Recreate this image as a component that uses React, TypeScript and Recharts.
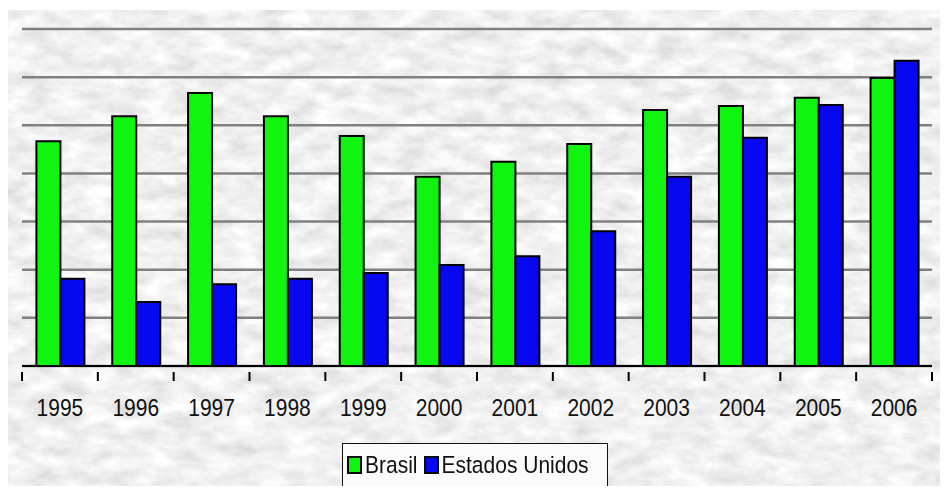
import { Bar, BarChart, CartesianGrid, Legend, XAxis, YAxis } from "recharts";

const YEARS = ["1995", "1996", "1997", "1998", "1999", "2000", "2001", "2002", "2003", "2004", "2005", "2006"];
const BRASIL = [4.67, 5.19, 5.67, 5.19, 4.78, 3.93, 4.24, 4.61, 5.32, 5.4, 5.57, 5.98];
const EUA = [1.81, 1.33, 1.7, 1.81, 1.93, 2.1, 2.28, 2.8, 3.93, 4.74, 5.42, 6.34];
const Y_TICKS = [0, 1, 2, 3, 4, 5, 6, 7];

const GREEN = "#10f410";
const BLUE = "#0808f0";
const FONT = "'Liberation Sans', Arial, sans-serif";

const W = 948;
const H = 494;
const LEFT = 22;
const RIGHT = 16;
const BAND = (W - LEFT - RIGHT) / YEARS.length;

const data = YEARS.map((year, i) => ({ year, brasil: BRASIL[i], eua: EUA[i] }));

function YearTick({ x, y, payload, index }: { x?: number; y?: number; payload?: { value: string }; index?: number }) {
  if (x === undefined || y === undefined || !payload) return null;
  const base = y - 2;
  const ty = base + 44;
  return (
    <g>
      <line x1={x - BAND / 2} x2={x - BAND / 2} y1={base} y2={base + 9} stroke="#000" strokeWidth={2} />
      {index === YEARS.length - 1 && (
        <line x1={x + BAND / 2} x2={x + BAND / 2} y1={base} y2={base + 9} stroke="#000" strokeWidth={2} />
      )}
      <text
        x={x}
        y={ty}
        textAnchor="middle"
        fontSize={21}
        fontFamily={FONT}
        fill="#111"
        transform={`translate(${x} ${ty}) scale(1 1.12) translate(${-x} ${-ty})`}
      >
        {payload.value}
      </text>
    </g>
  );
}

function LegendBox() {
  const item = (color: string, label: string) => (
    <span style={{ display: "inline-flex", alignItems: "center", marginRight: 6 }}>
      <span
        style={{
          display: "inline-block",
          width: 11,
          height: 14,
          background: color,
          border: "2px solid #0a0a0a",
          marginRight: 3,
        }}
      />
      <span style={{ display: "inline-block", transform: "scaleY(1.12)" }}>{label}</span>
    </span>
  );
  return (
    <div
      style={{
        width: 266,
        height: 44,
        boxSizing: "border-box",
        border: "1.5px solid #111",
        background: "#fbfbfb",
        display: "flex",
        alignItems: "center",
        paddingLeft: 4,
        fontFamily: FONT,
        fontSize: 21,
        color: "#111",
        whiteSpace: "nowrap",
      }}
    >
      {item(GREEN, "Brasil")}
      {item(BLUE, "Estados Unidos")}
    </div>
  );
}

export default function App() {
  return (
    <div style={{ position: "relative", width: W, height: H, margin: -8, background: "#fff" }}>
      {/* marbled grey backdrop */}
      <svg width={W} height={H} style={{ position: "absolute", left: 0, top: 0 }}>
        <defs>
          <filter id="marble" x="0" y="0" width="100%" height="100%">
            <feTurbulence type="fractalNoise" baseFrequency="0.035 0.07" numOctaves={5} seed={7} />
            <feColorMatrix
              type="matrix"
              values="0.45 0 0 0 0.65  0.45 0 0 0 0.65  0.45 0 0 0 0.65  0 0 0 0 1"
            />
          </filter>
        </defs>
        <rect x={8} y={10} width={W - 16} height={H - 14} filter="url(#marble)" />
      </svg>
      <div style={{ position: "absolute", left: 0, top: 0 }}>
        <BarChart
          width={W}
          height={H}
          data={data}
          margin={{ top: 29, right: RIGHT, left: LEFT, bottom: 44 }}
          barCategoryGap="19%"
          barGap={0}
        >
          <CartesianGrid vertical={false} stroke="#808080" strokeWidth={2.5} />
          <YAxis hide domain={[0, 7]} ticks={Y_TICKS} />
          <XAxis
            dataKey="year"
            height={40}
            axisLine={{ stroke: "#000", strokeWidth: 2 }}
            tickLine={false}
            tick={<YearTick />}
            interval={0}
          />
          <Legend
            content={<LegendBox />}
            wrapperStyle={{ position: "absolute", left: 342, top: 443, width: 266 }}
          />
          <Bar dataKey="brasil" name="Brasil" fill={GREEN} stroke="#000" strokeWidth={2} isAnimationActive={false} />
          <Bar dataKey="eua" name="Estados Unidos" fill={BLUE} stroke="#000" strokeWidth={2} isAnimationActive={false} />
        </BarChart>
      </div>
    </div>
  );
}
